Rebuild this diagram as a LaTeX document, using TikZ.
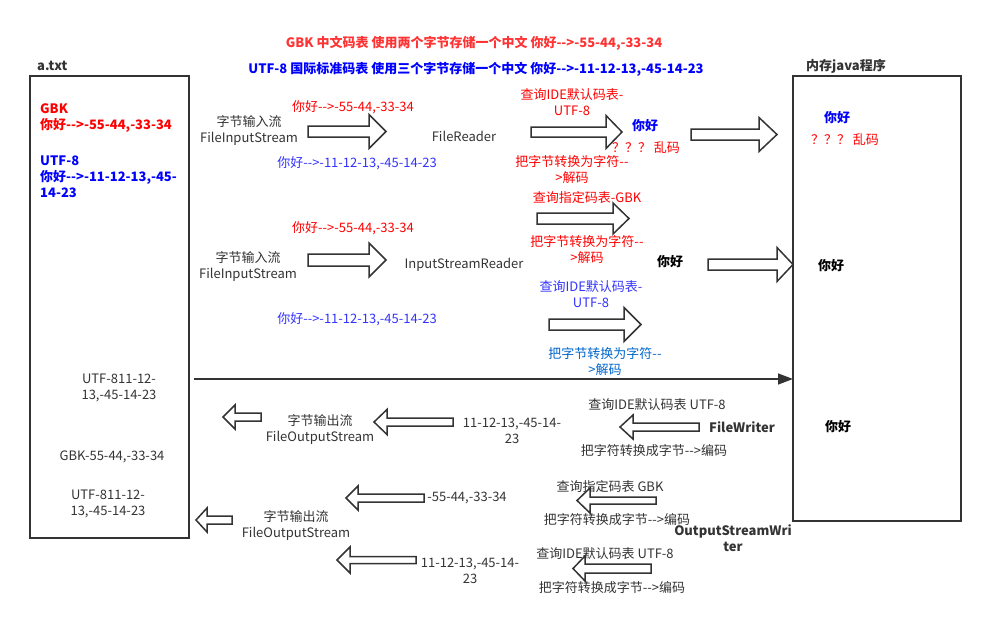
\documentclass[tikz,border=0pt]{standalone}
\usepackage{fontspec}
\setmainfont{Noto Sans CJK SC}[Ligatures=TeXOff]
\usetikzlibrary{arrows.meta}

\definecolor{titlered}{RGB}{255,51,51}
\definecolor{codered}{RGB}{255,0,0}
\definecolor{codeblue}{RGB}{0,0,255}
\definecolor{softblue}{RGB}{51,51,255}
\definecolor{skyblue}{RGB}{0,102,204}
\definecolor{inkgray}{RGB}{51,51,51}

\begin{document}
\begin{tikzpicture}[x=1pt,y=-1pt,
  txt/.style={font=\fontsize{13}{16}\selectfont, text=inkgray, inner sep=0pt, align=center},
  boldtxt/.style={txt, font=\fontsize{13}{16}\selectfont\bfseries},
  store/.style={draw=inkgray, line width=1.6pt, inner sep=0pt, outer sep=0pt},
  blockarr/.style={draw=inkgray, line width=1.5pt, fill=white, line join=miter},
  linearr/.style={draw=inkgray, line width=1.4pt, -{Triangle[length=15pt,width=11pt]}}]
\useasboundingbox (0,0) rectangle (986,627);

\node[boldtxt, text=titlered] (gbktitle) at (474,43) {GBK 中文码表 使用两个字节存储一个中文 你好-->-55-44,-33-34};
\node[boldtxt, text=codeblue] (utftitle) at (476,69) {UTF-8 国际标准码表 使用三个字节存储一个中文 你好-->-11-12-13,-45-14-23};

\node[boldtxt, anchor=west] (atxtlbl) at (37,66) {a.txt};
\node[store, minimum width=159pt, minimum height=462pt] (atxt) at (109.5,307) {};
\node[boldtxt, anchor=west] (memlbl) at (806,66) {内存java程序};
\node[store, minimum width=168pt, minimum height=445pt] (mem) at (877,298.5) {};

\node[boldtxt, text=codered, anchor=west, align=left] (gbkfile) at (40,118) {GBK\\你好-->-55-44,-33-34};
\node[boldtxt, text=codeblue, anchor=west, align=left] (utffile) at (40,177) {UTF-8\\你好-->-11-12-13,-45-\\14-23};
\node[txt] (oututf1) at (119,388) {UTF-811-12-\\13,-45-14-23};
\node[txt] (outgbk) at (112,457) {GBK-55-44,-33-34};
\node[txt] (oututf2) at (108,504) {UTF-811-12-\\13,-45-14-23};

\node[txt] (fisone) at (249,130) {字节输入流\\FileInputStream};
\node[txt, text=codered] (gbkone) at (353,107) {你好-->-55-44,-33-34};
\node[txt, text=softblue] (utfone) at (357,163) {你好-->-11-12-13,-45-14-23};
\node[txt] (freader) at (464,136) {FileReader};
\node[txt, text=codered] (ideone) at (572,102) {查询IDE默认码表-\\UTF-8};
\node[boldtxt, text=codeblue] (okone) at (645,126) {你好};
\node[txt, text=codered] (badone) at (646,148) {？？？\ 乱码};
\node[txt, text=codered] (decone) at (572,170) {把字节转换为字符--\\>解码};
\node[boldtxt, text=codeblue] (memok) at (837,118) {你好};
\node[txt, text=codered] (membad) at (845,140) {？？？\ 乱码};

\node[txt, text=codered] (gbkq) at (587,198) {查询指定码表-GBK};
\node[txt, text=codered] (gbktwo) at (353,228) {你好-->-55-44,-33-34};
\node[txt] (fistwo) at (248,266) {字节输入流\\FileInputStream};
\node[txt] (isreader) at (464,265) {InputStreamReader};
\node[txt, text=codered] (dectwo) at (587,249.5) {把字节转换为字符--\\>解码};
\node[boldtxt, text=black] (oktwo) at (670,262) {你好};
\node[txt, text=softblue] (idetwo) at (591,294.5) {查询IDE默认码表-\\UTF-8};
\node[txt, text=softblue] (utftwo) at (357,319) {你好-->-11-12-13,-45-14-23};
\node[txt, text=skyblue] (decthree) at (605,361.5) {把字节转换为字符--\\>解码};
\node[boldtxt, text=black] (memtwo) at (831,266) {你好};

\node[txt] (fosone) at (320,429) {字节输出流\\FileOutputStream};
\node[txt] (valone) at (512,431) {11-12-13,-45-14-\\23};
\node[txt] (ideout) at (657,405) {查询IDE默认码表 UTF-8};
\node[boldtxt] (fwriter) at (742,427) {FileWriter};
\node[txt] (encone) at (654,451) {把字符转换成字节-->编码};
\node[boldtxt, text=black] (memthree) at (838,427) {你好};

\node[txt] (gbkout) at (610,487) {查询指定码表 GBK};
\node[txt] (valtwo) at (467,498) {-55-44,-33-34};
\node[txt] (enctwo) at (617,520) {把字符转换成字节-->编码};
\node[boldtxt] (oswriter) at (733,538) {OutputStreamWri\\ter};
\node[txt] (fostwo) at (296,525) {字节输出流\\FileOutputStream};
\node[txt] (ideout2) at (605,554) {查询IDE默认码表 UTF-8};
\node[txt] (valthree) at (470,571) {11-12-13,-45-14-\\23};
\node[txt] (encthree) at (612,588) {把字符转换成字节-->编码};

\foreach \a/\b/\c/\m/\s/\h in {308/369/386/131.5/5.5/17, 531/606/622/132/5/16.5, 691/759/777/134.5/5.5/17,
    308/369/386/260/6/17, 537/613/629/218.5/5.5/15.5, 549/624/641/324.5/5.5/17, 708/777/793/264.5/5.5/17,
    699/633/620/427/4/12, 453/387/374/422/4/12.5, 261/235/223/417/4/12,
    656/590/577/500.5/3.5/12.5, 424/358/346/498/4/12, 232/207/196/520/4/12,
    651/585/573/568.5/4.5/12.5, 416/350/337/560/3.5/13}
  \draw[blockarr] (\a,\m-\s) -- (\b,\m-\s) -- (\b,\m-\h) -- (\c,\m) -- (\b,\m+\h) -- (\b,\m+\s) -- (\a,\m+\s) -- cycle;

\coordinate (lnstart) at (194,379);
\draw[linearr] (lnstart) -- (lnstart -| mem.west);
\end{tikzpicture}
\end{document}
